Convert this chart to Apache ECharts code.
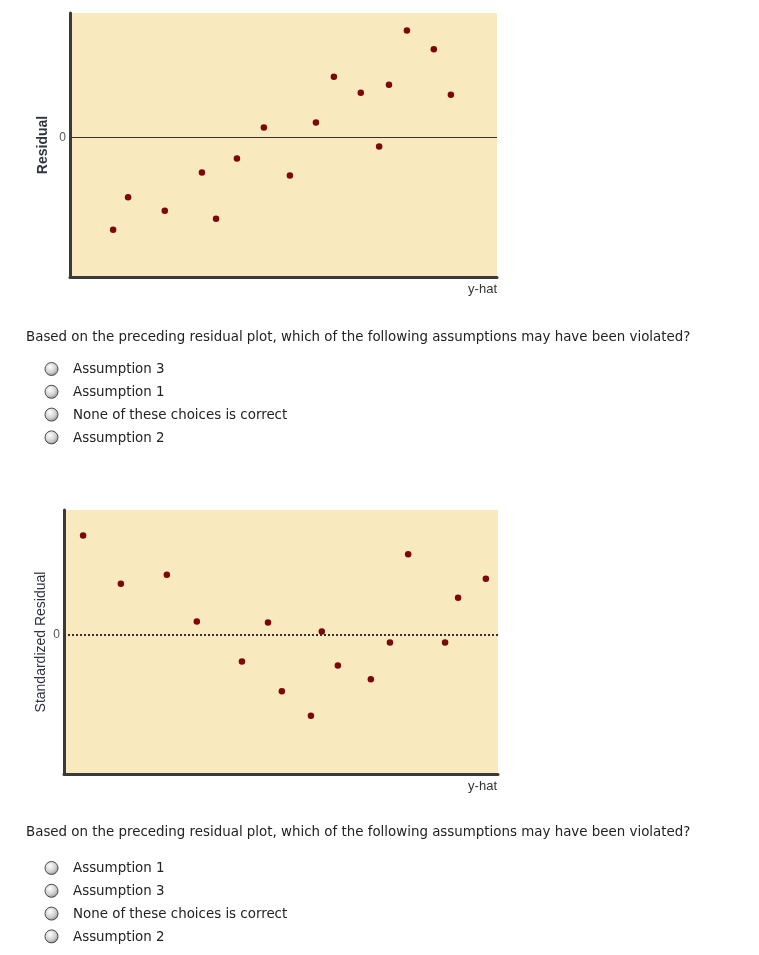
<!DOCTYPE html>
<html>
<head>
<meta charset="utf-8">
<script src="https://cdn.jsdelivr.net/npm/echarts@6/dist/echarts.min.js"></script>
<style>
	html, body { margin: 0; padding: 0; background: #fff; }
	#chart { width: 759px; height: 955px; }
</style>
</head>
<body>
<div id="chart"></div>
<script>
// plot 1: residual vs y-hat
var residX = [1.01, 1.36, 2.22, 3.09, 3.42, 3.91, 4.54, 5.15, 5.76, 6.18, 6.81, 7.24, 7.47, 7.89, 8.52, 8.92];
var residY = [-1.85, -1.20, -1.47, -0.70, -1.63, -0.42, 0.20, -0.76, 0.30, 1.22, 0.90, -0.18, 1.06, 2.15, 1.77, 0.86];

// plot 2: standardized residual vs y-hat
var stdX = [0.44, 1.31, 2.37, 3.06, 4.10, 4.70, 5.02, 5.69, 5.94, 6.31, 7.07, 7.51, 7.93, 8.78, 9.08, 9.72];
var stdY = [1.99, 1.02, 1.20, 0.26, -0.54, 0.24, -1.14, -1.63, 0.06, -0.62, -0.90, -0.16, 1.61, -0.16, 0.74, 1.12];

var question = 'Based on the preceding residual plot, which of the following assumptions may have been violated?';
var choices1 = ['Assumption 3', 'Assumption 1', 'None of these choices is correct', 'Assumption 2'];
var choices2 = ['Assumption 1', 'Assumption 3', 'None of these choices is correct', 'Assumption 2'];

function pairs(xs, ys) {
	return xs.map(function (x, i) { return [x, ys[i]]; });
}

var textFont = '13.4px "DejaVu Sans", Verdana, sans-serif';

function questionBlock(top, choices, optTop) {
	var els = [{
		type: 'text', x: 26, y: top,
		style: { text: question, font: textFont, fill: '#222', verticalAlign: 'middle' }
	}];
	choices.forEach(function (c, i) {
		var cy = optTop + i * 22.8;
		els.push({
			type: 'circle',
			shape: { cx: 51.5, cy: cy, r: 6.5 },
			style: {
				fill: new echarts.graphic.RadialGradient(0.4, 0.35, 0.75, [
					{ offset: 0, color: '#ffffff' },
					{ offset: 0.55, color: '#cfcfcf' },
					{ offset: 1, color: '#7a7a7a' }
				]),
				stroke: '#4a4a4a', lineWidth: 1
			}
		});
		els.push({
			type: 'text', x: 73, y: cy + 1,
			style: { text: c, font: textFont, fill: '#222', verticalAlign: 'middle' }
		});
	});
	return els;
}

function xAxisFor(gridIndex) {
	return {
		type: 'value', gridIndex: gridIndex, min: 0, max: 10,
		axisLine: { show: true, onZero: false, lineStyle: { color: '#3a3a3a', width: 3 } },
		axisTick: { show: false }, axisLabel: { show: false }, splitLine: { show: false }
	};
}

function yAxisFor(gridIndex, name, gap, bold) {
	return {
		type: 'value', gridIndex: gridIndex, min: -2.8, max: 2.5,
		name: name, nameLocation: 'middle', nameGap: gap, nameRotate: 90,
		nameTextStyle: { fontFamily: 'Liberation Sans, Arial', fontSize: 14, color: '#2f3340', fontWeight: bold ? 'bold' : 'normal' },
		axisLine: { show: true, lineStyle: { color: '#3a3a3a', width: 3 } },
		axisTick: { show: false }, axisLabel: { show: false }, splitLine: { show: false }
	};
}

function zeroLine(type, width) {
	return {
		silent: true, symbol: 'none',
		lineStyle: { color: '#333', type: type, width: width },
		label: { show: true, position: 'start', formatter: '0', color: '#555', fontSize: 12, fontFamily: 'Liberation Sans, Arial', distance: 4 },
		data: [{ yAxis: 0 }]
	};
}

var chart = echarts.init(document.getElementById('chart'));

chart.setOption({
	animation: false,
	grid: [
		{ left: 70, top: 13, width: 427, height: 264, show: true, backgroundColor: '#F8E9BE', borderWidth: 0 },
		{ left: 64, top: 510, width: 434, height: 264, show: true, backgroundColor: '#F8E9BE', borderWidth: 0 }
	],
	xAxis: [xAxisFor(0), xAxisFor(1)],
	yAxis: [yAxisFor(0, 'Residual', 20, true), yAxisFor(1, 'Standardized Residual', 16, false)],
	series: [
		{
			type: 'scatter', xAxisIndex: 0, yAxisIndex: 0,
			data: pairs(residX, residY), symbolSize: 6.5,
			itemStyle: { color: '#7d0606', opacity: 1 },
			markLine: zeroLine('solid', 1)
		},
		{
			type: 'scatter', xAxisIndex: 1, yAxisIndex: 1,
			data: pairs(stdX, stdY), symbolSize: 6.5,
			itemStyle: { color: '#7d0606', opacity: 1 },
			markLine: zeroLine([2, 2], 2)
		}
	],
	graphic: [
		{ type: 'text', x: 497, y: 283, style: { text: 'y-hat', font: '13px "Liberation Sans", Arial', fill: '#333', align: 'right', verticalAlign: 'top' } },
		{ type: 'text', x: 497, y: 780, style: { text: 'y-hat', font: '13px "Liberation Sans", Arial', fill: '#333', align: 'right', verticalAlign: 'top' } }
	].concat(questionBlock(337.5, choices1, 369), questionBlock(833, choices2, 868))
});
</script>
</body>
</html>
